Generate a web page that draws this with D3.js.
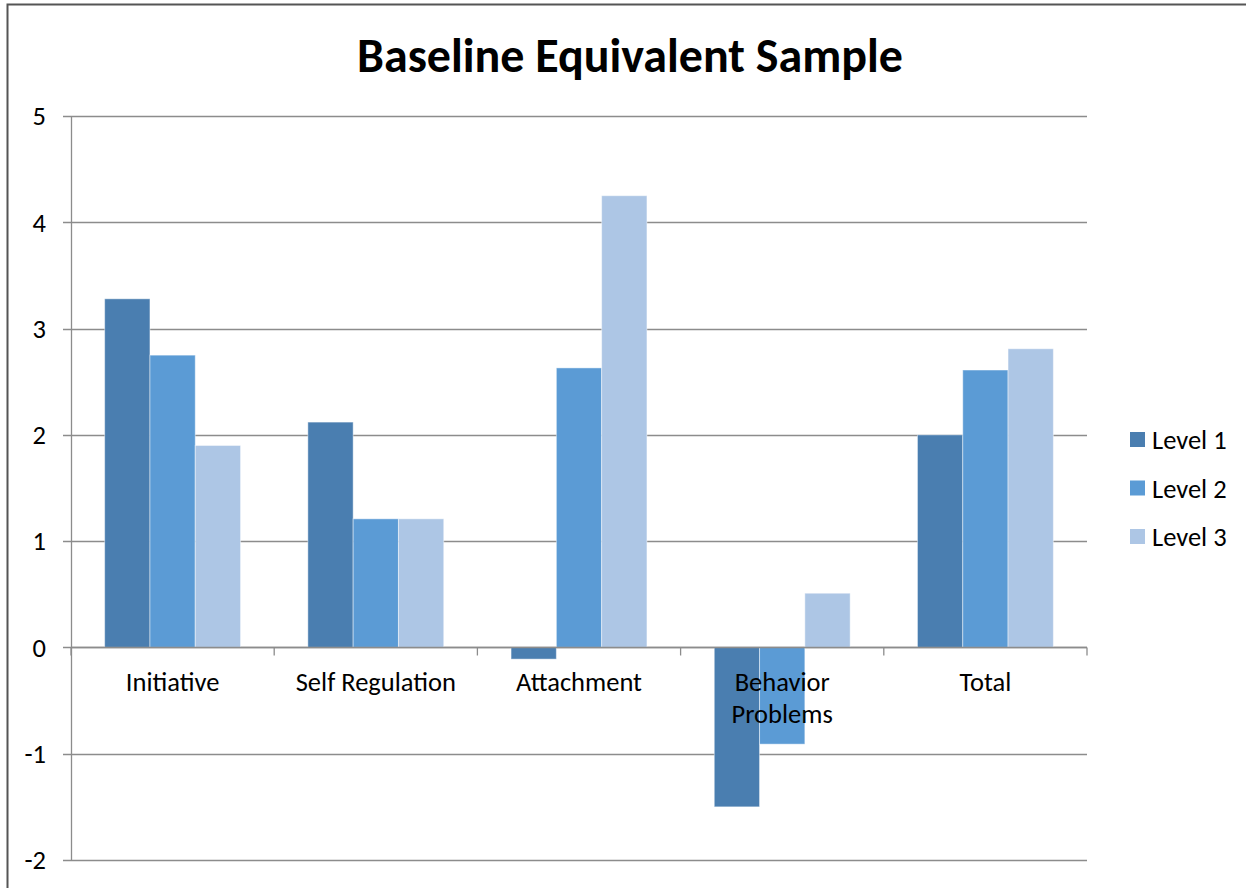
<!DOCTYPE html>
<html>
<head>
<meta charset="utf-8">
<script src="https://cdn.jsdelivr.net/npm/d3@7"></script>
<style>
  html, body { margin: 0; padding: 0; background: #fff; }
  svg { display: block; }
  text { font-family: Carlito, Calibri, Lato, sans-serif; fill: #000; }
</style>
</head>
<body>
<svg id="chart" width="1246" height="888"></svg>
<script>
const categories = ["Initiative", "Self Regulation", "Attachment", "Behavior Problems", "Total"];
const seriesNames = ["Level 1", "Level 2", "Level 3"];
const level1 = [3.28, 2.12, -0.11, -1.50, 2.00];
const level2 = [2.75, 1.21, 2.63, -0.91, 2.61];
const level3 = [1.90, 1.21, 4.25, 0.51, 2.81];
const yTicks = [-2, -1, 0, 1, 2, 3, 4, 5];
const colors = ["#4A7EB0", "#5B9BD5", "#ADC6E5"];
const chartTitle = "Baseline Equivalent Sample";

const seriesValues = [level1, level2, level3];

const svg = d3.select("#chart");
const W = 1246, H = 888;

// outer frame
svg.append("rect").attr("x", 7.5).attr("y", 4.5).attr("width", W + 10).attr("height", H + 10)
  .attr("fill", "#fff").attr("stroke", "#555").attr("stroke-width", 2);

const plotL = 71, plotR = 1087, plotT = 116, plotB = 860;

const y = d3.scaleLinear().domain([-2, 5]).range([plotB, plotT]);
const x0 = d3.scaleBand().domain(categories).range([plotL, plotR]).paddingInner(0).paddingOuter(0);
const x1 = d3.scaleBand().domain(seriesNames).range([0, x0.bandwidth()]).paddingInner(0).paddingOuter(0.743);

// title
svg.append("text").attr("x", 630).attr("y", 72).attr("text-anchor", "middle")
  .attr("font-size", 48).attr("font-weight", "bold").text(chartTitle);

// gridlines
svg.append("g").selectAll("line").data(yTicks).join("line")
  .attr("x1", plotL - 8).attr("x2", plotR)
  .attr("y1", d => Math.round(y(d)) + 0.5).attr("y2", d => Math.round(y(d)) + 0.5)
  .attr("stroke", "#8c8c8c").attr("stroke-width", 1.3);

// y axis line
svg.append("line").attr("x1", plotL + 0.5).attr("x2", plotL + 0.5).attr("y1", plotT).attr("y2", plotB)
  .attr("stroke", "#8c8c8c").attr("stroke-width", 1.3);

// y tick labels
svg.append("g").selectAll("text").data(yTicks).join("text")
  .attr("x", 46).attr("y", d => y(d)).attr("dy", "0.35em").attr("text-anchor", "end")
  .attr("font-size", 26.5).text(d => d);

// bars
const groups = svg.append("g").selectAll("g").data(seriesNames).join("g")
  .attr("fill", (d, i) => colors[i]);
groups.selectAll("rect").data((s, si) => categories.map((c, ci) => ({ c, s, v: seriesValues[si][ci] })))
  .join("rect")
  .attr("x", d => x0(d.c) + x1(d.s))
  .attr("width", x1.bandwidth())
  .attr("y", d => y(Math.max(0, d.v)))
  .attr("height", d => Math.abs(y(d.v) - y(0)))
  .attr("stroke", "#ffffff").attr("stroke-opacity", 0.45).attr("stroke-width", 1);

// x axis line at zero + ticks
const zeroY = Math.round(y(0)) + 0.5;
svg.append("line").attr("x1", plotL).attr("x2", plotR).attr("y1", zeroY).attr("y2", zeroY)
  .attr("stroke", "#8c8c8c").attr("stroke-width", 1.3);
const bounds = categories.map(c => x0(c)).concat([plotR]);
svg.append("g").selectAll("line").data(bounds).join("line")
  .attr("x1", d => d).attr("x2", d => d).attr("y1", zeroY).attr("y2", zeroY + 8)
  .attr("stroke", "#8c8c8c").attr("stroke-width", 1.3);

// category labels (wrap "Behavior Problems")
const catLabels = svg.append("g").selectAll("text").data(categories).join("text")
  .attr("x", d => x0(d) + x0.bandwidth() / 2)
  .attr("y", 691).attr("text-anchor", "middle").attr("font-size", 26.5);
catLabels.each(function(d) {
  const t = d3.select(this);
  const lines = d === "Behavior Problems" ? ["Behavior", "Problems"] : [d];
  lines.forEach((ln, i) => {
    t.append("tspan").attr("x", x0(d) + x0.bandwidth() / 2).attr("dy", i === 0 ? 0 : 32).text(ln);
  });
});

// legend
const leg = svg.append("g").selectAll("g").data(seriesNames).join("g")
  .attr("transform", (d, i) => `translate(1130, ${432 + i * 48.5})`);
leg.append("rect").attr("width", 15).attr("height", 15).attr("fill", (d, i) => colors[i]);
leg.append("text").attr("x", 22).attr("y", 8).attr("dy", "0.35em").attr("font-size", 26.5).text(d => d);
</script>
</body>
</html>
